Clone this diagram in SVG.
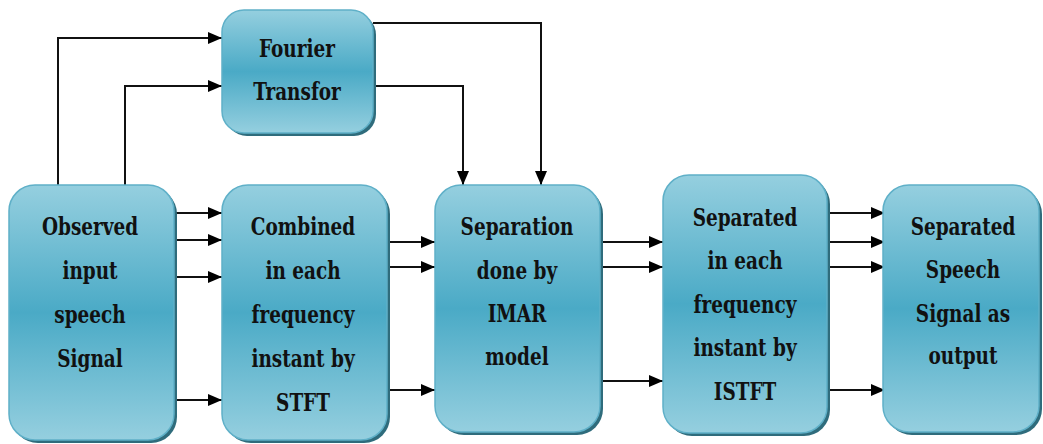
<svg xmlns="http://www.w3.org/2000/svg" width="1043" height="444" viewBox="0 0 1043 444">
<defs>
<linearGradient id="g" x1="0" y1="0" x2="0" y2="1">
<stop offset="0" stop-color="#95cfdf"/>
<stop offset="0.5" stop-color="#4aaac6"/>
<stop offset="1" stop-color="#95cfdf"/>
</linearGradient>
<marker id="ah" markerUnits="userSpaceOnUse" markerWidth="16" markerHeight="16" viewBox="0 0 16 16" refX="14" refY="8" orient="auto">
<path d="M0,2 L14,8 L0,14 Z" fill="#000"/>
</marker>
<style>
.sh{fill:#2f6c7c;}
.bx{fill:url(#g);stroke:#5fb0c8;stroke-width:1.5;}
.t{font-family:'DejaVu Serif Condensed','DejaVu Serif',serif;font-weight:bold;font-size:25px;fill:#111;text-anchor:middle;}
.c{fill:none;stroke:#111;stroke-width:2;marker-end:url(#ah);}
</style>
</defs>
<rect width="1043" height="444" fill="#fff"/>
<g id="connectors">
<path class="c" d="M58,185 V38 H222"/>
<path class="c" d="M125,185 V86 H222"/>
<path class="c" d="M373,23 H541 V185"/>
<path class="c" d="M373,86 H463 V185"/>
<path class="c" d="M174,213 H222"/>
<path class="c" d="M174,240 H222"/>
<path class="c" d="M174,277 H222"/>
<path class="c" d="M174,400 H222"/>
<path class="c" d="M387,242 H435"/>
<path class="c" d="M387,267 H435"/>
<path class="c" d="M387,390 H435"/>
<path class="c" d="M600,242 H663"/>
<path class="c" d="M600,267 H663"/>
<path class="c" d="M600,381 H663"/>
<path class="c" d="M827,213 H885"/>
<path class="c" d="M827,242 H885"/>
<path class="c" d="M827,267 H885"/>
<path class="c" d="M827,390 H885"/>
</g>
<g id="fourier">
<rect class="sh" x="225" y="13" width="151" height="123" rx="22"/>
<rect class="bx" x="222" y="10" width="151" height="123" rx="22"/>
<g transform="translate(297,0) scale(0.82,1)">
<text class="t" x="0" y="57">Fourier</text>
<text class="t" x="0" y="100">Transfor</text>
</g>
</g>
<g id="observed">
<rect class="sh" x="12" y="188" width="165" height="255" rx="26"/>
<rect class="bx" x="9" y="185" width="165" height="255" rx="26"/>
<g transform="translate(90,0) scale(0.82,1)">
<text class="t" x="0" y="235">Observed</text>
<text class="t" x="0" y="279">input</text>
<text class="t" x="0" y="323">speech</text>
<text class="t" x="0" y="367">Signal</text>
</g>
</g>
<g id="combined">
<rect class="sh" x="225" y="188" width="165" height="255" rx="26"/>
<rect class="bx" x="222" y="185" width="165" height="255" rx="26"/>
<g transform="translate(303,0) scale(0.82,1)">
<text class="t" x="0" y="235">Combined</text>
<text class="t" x="0" y="279">in each</text>
<text class="t" x="0" y="323">frequency</text>
<text class="t" x="0" y="367">instant by</text>
<text class="t" x="0" y="411">STFT</text>
</g>
</g>
<g id="separation">
<rect class="sh" x="438" y="188" width="165" height="247" rx="26"/>
<rect class="bx" x="435" y="185" width="165" height="247" rx="26"/>
<g transform="translate(517,0) scale(0.82,1)">
<text class="t" x="0" y="235">Separation</text>
<text class="t" x="0" y="279">done by</text>
<text class="t" x="0" y="322">IMAR</text>
<text class="t" x="0" y="365">model</text>
</g>
</g>
<g id="separated">
<rect class="sh" x="666" y="178" width="164" height="258" rx="26"/>
<rect class="bx" x="663" y="175" width="164" height="258" rx="26"/>
<g transform="translate(745,0) scale(0.82,1)">
<text class="t" x="0" y="226">Separated</text>
<text class="t" x="0" y="269">in each</text>
<text class="t" x="0" y="313">frequency</text>
<text class="t" x="0" y="356">instant by</text>
<text class="t" x="0" y="400">ISTFT</text>
</g>
</g>
<g id="output">
<rect class="sh" x="886" y="188" width="156" height="247" rx="26"/>
<rect class="bx" x="883" y="185" width="156" height="247" rx="26"/>
<g transform="translate(963,0) scale(0.82,1)">
<text class="t" x="0" y="235">Separated</text>
<text class="t" x="0" y="278">Speech</text>
<text class="t" x="0" y="322">Signal as</text>
<text class="t" x="0" y="364">output</text>
</g>
</g>
</svg>
